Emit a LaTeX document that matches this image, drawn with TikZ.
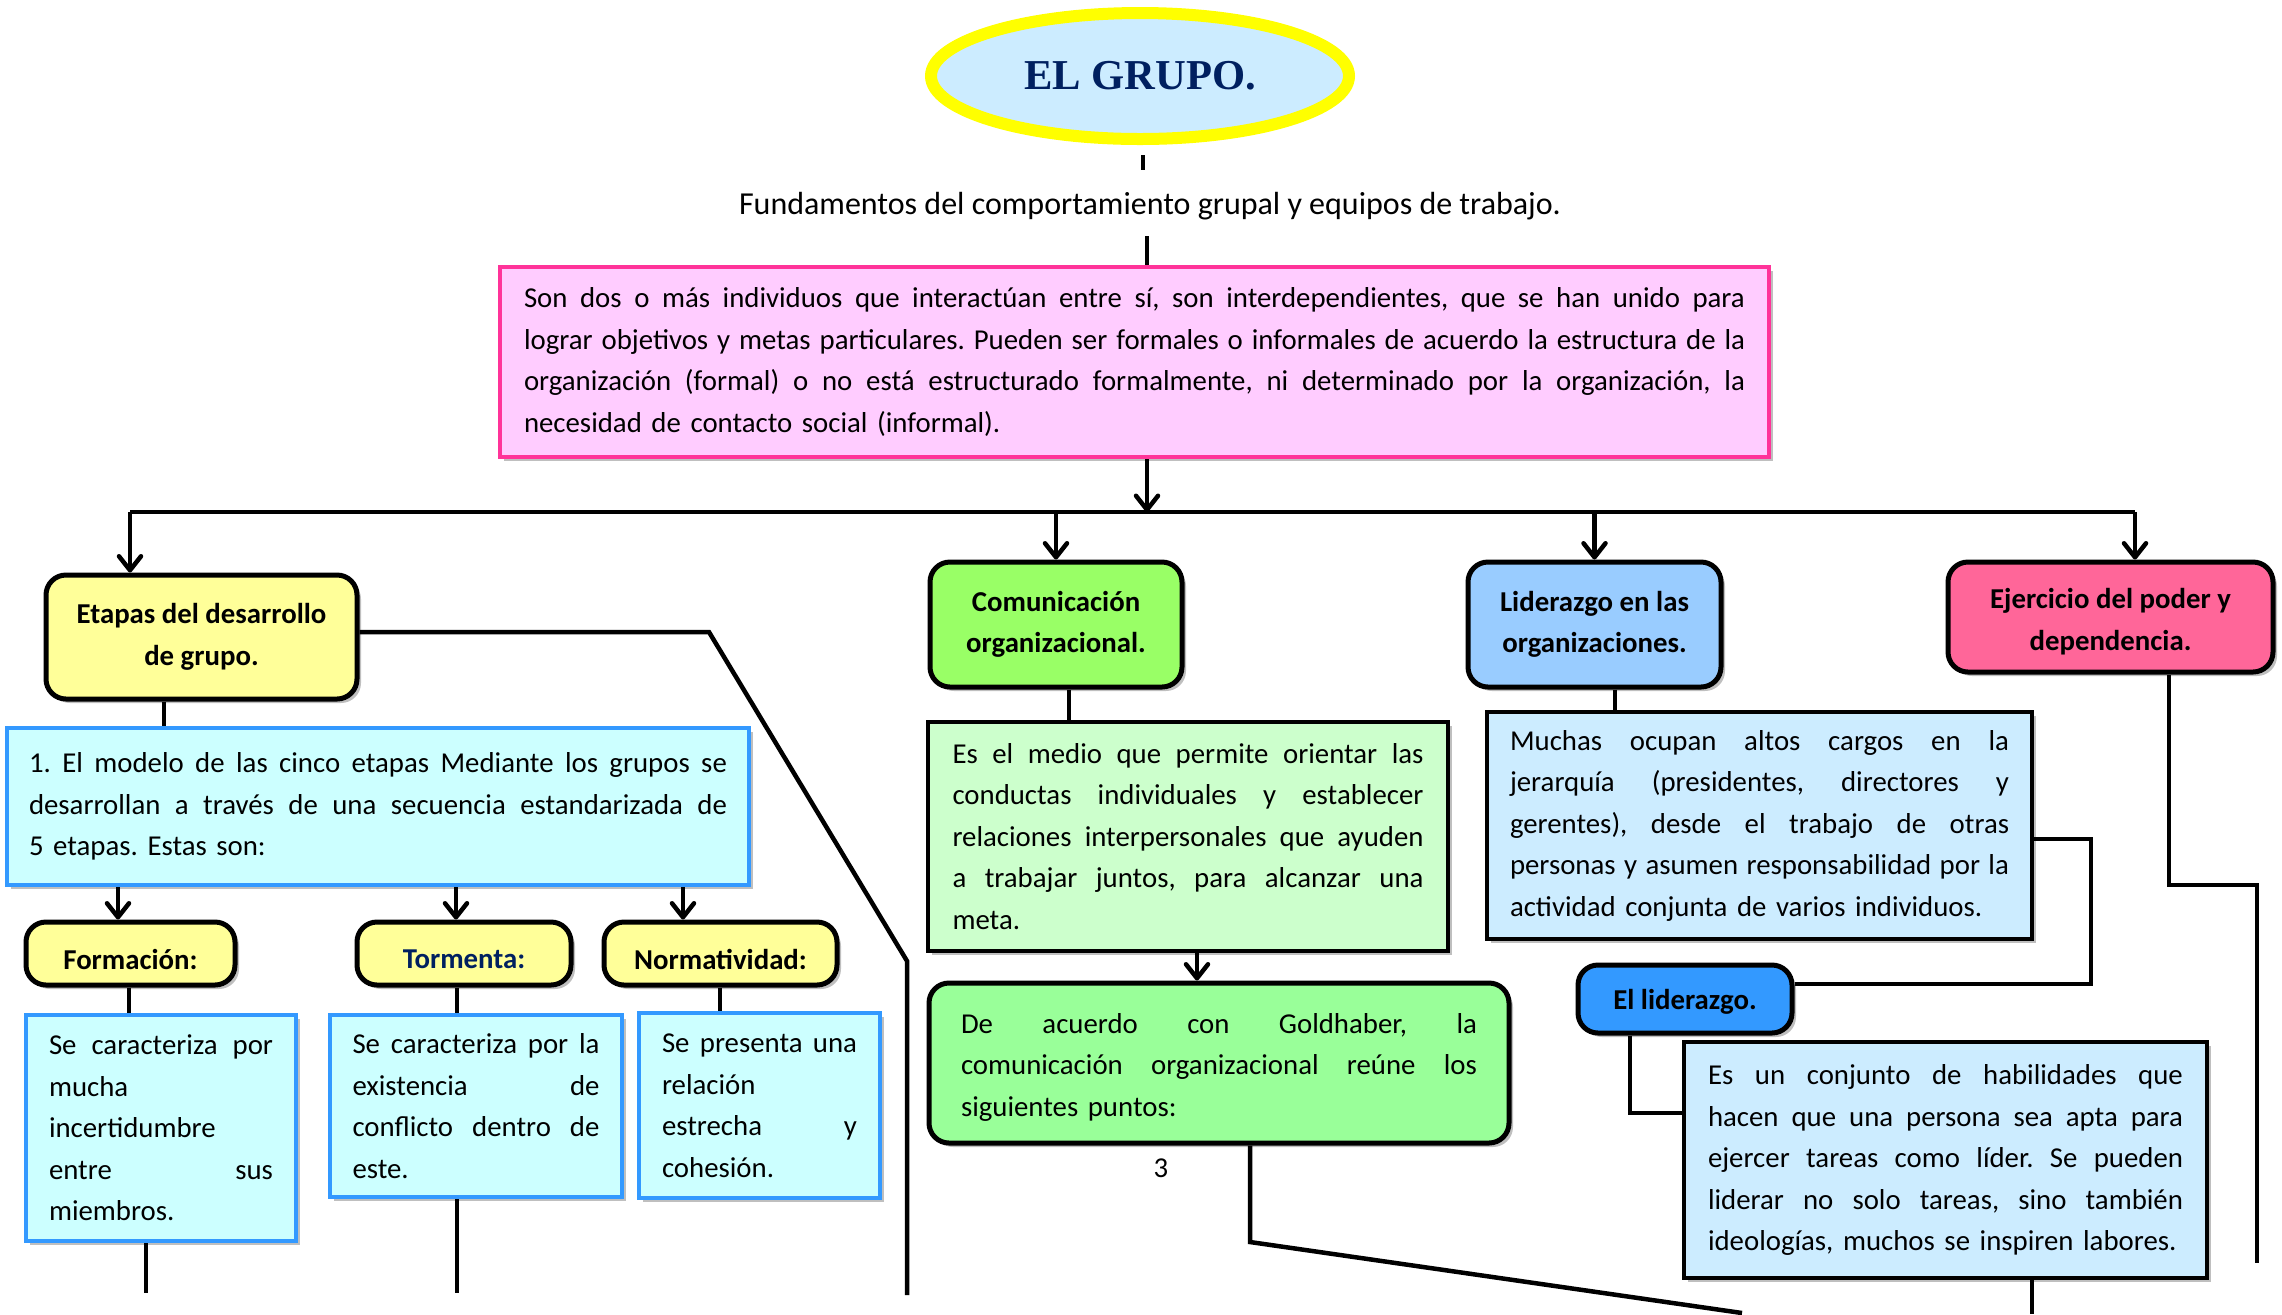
\documentclass[tikz,border=0pt]{standalone}
\usepackage{fontspec}
\setmainfont{Carlito}
\newfontfamily\titlefont{Liberation Serif}
\usetikzlibrary{arrows.meta,shapes.geometric,shadows}

\definecolor{ttlfill}{HTML}{CCECFF}
\definecolor{ttlnavy}{HTML}{002060}
\definecolor{ttlring}{HTML}{FFFF00}
\definecolor{pinkfill}{HTML}{FFCCFF}
\definecolor{pinkline}{HTML}{FF3399}
\definecolor{yelfill}{HTML}{FFFF99}
\definecolor{cyanfill}{HTML}{CCFFFF}
\definecolor{blueline}{HTML}{3399FF}
\definecolor{grnhead}{HTML}{99FF66}
\definecolor{grnlight}{HTML}{CCFFCC}
\definecolor{grnmid}{HTML}{99FF99}
\definecolor{bluehead}{HTML}{99CCFF}
\definecolor{bluelight}{HTML}{CCECFF}
\definecolor{bluedeep}{HTML}{3399FF}
\definecolor{redhead}{HTML}{FF6699}

\newcommand\bodyfont{\fontsize{14.4}{20.75}\selectfont\frenchspacing}
% width of the text column inside a box
\newlength\rowwd
% one justified line, and one closing (left aligned) line
\newcommand\jrow[1]{\hbox to\rowwd{\spaceskip=0.226em plus 1fil minus 0.08em\relax#1}}
\newcommand\lrow[1]{\hbox to\rowwd{#1\hfil}}
% text drawn a little lower than the centre of its box
\newcommand\droptext[2]{\raisebox{-#1}[\height][\depth]{#2}}

\begin{document}
\begin{tikzpicture}[x=0.5pt,y=-0.5pt,
  conn/.style={line width=2.25pt},
  arr/.style={conn,-{Straight Barb[length=7pt,width=11pt,round]}},
  softshadow/.style={drop shadow={shadow xshift=2pt,shadow yshift=-2pt,opacity=0.25,fill=black}},
  txbox/.style={draw,line width=2pt,inner sep=0pt,font=\bodyfont,softshadow},
  tw/.style={text width=#1,execute at begin node={\setlength\rowwd{#1}}},
  hdbox/.style={txbox,line width=2.5pt,rounded corners=10pt,align=center,font=\bodyfont\bfseries},
  cybox/.style={txbox,draw=blueline,fill=cyanfill},
]
\path[use as bounding box,fill=white] (0,0) rectangle (2282,1314);

% ---- title and definition ----
\node[ellipse,draw=ttlring,line width=6pt,fill=ttlfill,minimum width=209pt,minimum height=63pt,
      inner sep=0pt,font=\titlefont\fontsize{21.3}{25}\selectfont\bfseries,text=ttlnavy]
      (title) at (1140,76) {EL GRUPO.};
\node[font=\fontsize{16}{19}\selectfont,inner sep=0pt] (sub) at (1150,206)
      {Fundamentos del comportamiento grupal y equipos de trabajo.};
\node[txbox,draw=pinkline,fill=pinkfill,minimum width=634.5pt,minimum height=95pt,tw=610.5pt]
      (def) at (1134.5,362) {%
\jrow{Son dos o más individuos que interactúan entre sí, son interdependientes, que se han unido para}
\jrow{lograr objetivos y metas particulares. Pueden ser formales o informales de acuerdo la estructura de la}
\jrow{organización (formal) o no está estructurado formalmente, ni determinado por la organización, la}
\lrow{necesidad de contacto social (informal).}};

% ---- branch 1: stages ----
\node[hdbox,fill=yelfill,minimum width=155.5pt,minimum height=62pt] (etapas) at (201.5,637)
      {Etapas del desarrollo\\de grupo.};
\node[cybox,minimum width=371pt,minimum height=78.5pt,tw=349pt] (modelo) at (378,806.5) {%
\jrow{1. El modelo de las cinco etapas Mediante los grupos se}
\jrow{desarrollan a través de una secuencia estandarizada de}
\lrow{5 etapas. Estas son:}};
\node[hdbox,fill=yelfill,minimum width=104.5pt,minimum height=31.5pt] (form) at (130.5,953.5) {\droptext{3pt}{Formación:}};
\node[hdbox,fill=yelfill,minimum width=107pt,minimum height=31.5pt,text=ttlnavy] (torm) at (464,953.5) {\droptext{3pt}{Tormenta:}};
\node[hdbox,fill=yelfill,minimum width=116.5pt,minimum height=31.5pt] (norm) at (720.5,953.5) {\droptext{3pt}{Normatividad:}};
\node[cybox,minimum width=135pt,minimum height=113pt,tw=112pt] (formtx) at (161,1128) {%
\jrow{Se caracteriza por}
\lrow{mucha}
\lrow{incertidumbre}
\jrow{entre sus}
\lrow{miembros.}};
\node[cybox,minimum width=146pt,minimum height=91pt,tw=123.5pt] (tormtx) at (476,1106) {%
\jrow{Se caracteriza por la}
\jrow{existencia de}
\jrow{conflicto dentro de}
\lrow{este.}};
\node[cybox,minimum width=120.5pt,minimum height=92.5pt,tw=97.5pt] (normtx) at (759.5,1105.5) {%
\jrow{Se presenta una}
\lrow{relación}
\jrow{estrecha y}
\lrow{cohesión.}};

% ---- branch 2: communication ----
\node[hdbox,fill=grnhead,minimum width=126pt,minimum height=62.5pt] (comm) at (1056,624.5)
      {Comunicación\\organizacional.};
\node[txbox,fill=grnlight,minimum width=260pt,minimum height=114.5pt,tw=235.5pt] (medio) at (1188,836.5) {%
\jrow{Es el medio que permite orientar las}
\jrow{conductas individuales y establecer}
\jrow{relaciones interpersonales que ayuden}
\jrow{a trabajar juntos, para alcanzar una}
\lrow{meta.}};
\node[txbox,rounded corners=10pt,line width=2.5pt,fill=grnmid,minimum width=290pt,minimum height=80pt,tw=258pt]
      (gold) at (1219,1063) {%
\droptext{2.2pt}{\vbox{\hsize=\rowwd
\jrow{De acuerdo con Goldhaber, la}
\jrow{comunicación organizacional reúne los}
\lrow{siguientes puntos:}}}};
\node[font=\bodyfont,inner sep=0pt] (pag) at (1161,1168) {3};

% ---- branch 3: leadership ----
\node[hdbox,fill=bluehead,minimum width=126.5pt,minimum height=62.5pt] (lider) at (1594.5,624.5)
      {Liderazgo en las\\organizaciones.};
\node[txbox,fill=bluelight,minimum width=272.5pt,minimum height=113.5pt,tw=249.5pt] (muchas) at (1759.5,825.5) {%
\jrow{Muchas ocupan altos cargos en la}
\jrow{jerarquía (presidentes, directores y}
\jrow{gerentes), desde el trabajo de otras}
\jrow{personas y asumen responsabilidad por la}
\lrow{actividad conjunta de varios individuos.}};
\node[hdbox,fill=bluedeep,minimum width=107pt,minimum height=34pt] (ellid) at (1685,999) {\droptext{1.5pt}{El liderazgo.}};
\node[txbox,fill=bluelight,minimum width=261.5pt,minimum height=118pt,tw=237.5pt] (habil) at (1945.5,1160) {%
\jrow{Es un conjunto de habilidades que}
\jrow{hacen que una persona sea apta para}
\jrow{ejercer tareas como líder. Se pueden}
\jrow{liderar no solo tareas, sino también}
\lrow{ideologías, muchos se inspiren labores.}};

% ---- branch 4: power ----
\node[hdbox,fill=redhead,minimum width=162.5pt,minimum height=55pt] (poder) at (2110.5,617)
      {\droptext{2.2pt}{\begin{tabular}{@{}c@{}}Ejercicio del poder y\\dependencia.\end{tabular}}};

% ---- connectors ----
\coordinate (bus) at (1147,512);
\coordinate (busL) at (130,512);
\coordinate (busR) at (2135,512);
\draw[conn] ([xshift=1.5pt,yshift=-5pt]title.south) -- ++(0,15);
\draw[conn] ([yshift=-8pt]sub.south -| bus) -- (bus |- def.north);
\draw[arr] (def.south -| bus) -- (bus);
\draw[conn] (busL) -- (busR);
\draw[arr] (busL) -- (busL |- etapas.north);
\draw[arr] (comm.north |- bus) -- (comm.north);
\draw[arr] (lider.north |- bus) -- (lider.north);
\draw[arr] (busR) -- (busR |- poder.north);

\coordinate (e1) at (709,632);
\coordinate (e2) at (907,961);
\coordinate (e3) at (907,1295);
\draw[conn] (etapas.east |- e1) -- (e1) -- (e2) -- (e3);
\draw[conn] (164,0 |- etapas.south) -- (164,0 |- modelo.north);
\draw[arr] (118,0 |- modelo.south) -- (118,0 |- form.north);
\draw[arr] (456,0 |- modelo.south) -- (456,0 |- torm.north);
\draw[arr] (683,0 |- modelo.south) -- (683,0 |- norm.north);
\draw[conn] (129,0 |- form.south) -- (129,0 |- formtx.north);
\draw[conn] (457,0 |- torm.south) -- (457,0 |- tormtx.north);
\draw[conn] (720,0 |- norm.south) -- (720,0 |- normtx.north);
\coordinate (f1) at (146,1293);
\draw[conn] (f1 |- formtx.south) -- (f1);
\coordinate (t1) at (457,1293);
\draw[conn] (t1 |- tormtx.south) -- (t1);

\draw[conn] (1069,0 |- comm.south) -- (1069,0 |- medio.north);
\draw[arr] (1197,0 |- medio.south) -- (1197,0 |- gold.north);
\coordinate (g1) at (1250,1242);
\coordinate (g2) at (1742,1313);
\draw[conn] (g1 |- gold.south) -- (g1) -- (g2);

\draw[conn] (1615,0 |- lider.south) -- (1615,0 |- muchas.north);
\coordinate (m1) at (2091,839);
\coordinate (m2) at (2091,984);
\draw[conn] (muchas.east |- m1) -- (m1) -- (m2) -- (m2 -| ellid.east);
\coordinate (l1) at (1630,1113);
\draw[conn] (l1 |- ellid.south) -- (l1) -- (l1 -| habil.west);
\coordinate (h1) at (2032,1314);
\draw[conn] (h1 |- habil.south) -- (h1);

\coordinate (p1) at (2169,885);
\coordinate (p2) at (2257,885);
\coordinate (p3) at (2257,1263);
\draw[conn] (p1 |- poder.south) -- (p1) -- (p2) -- (p3);
\end{tikzpicture}
\end{document}
